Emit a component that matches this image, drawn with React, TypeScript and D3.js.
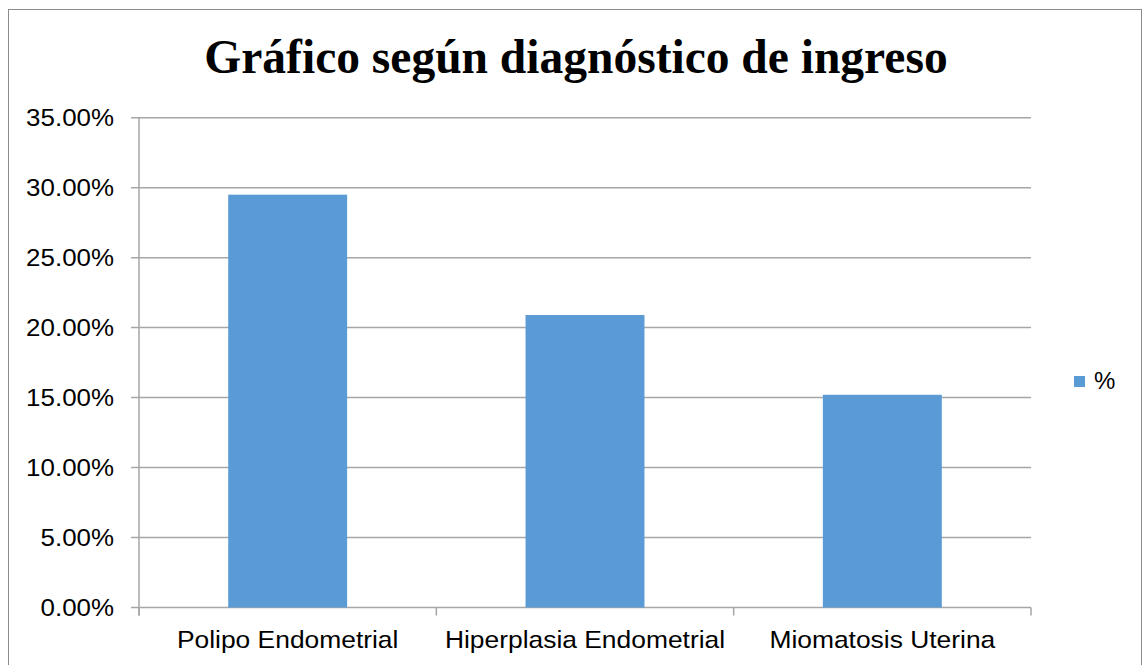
import React from 'react'
import * as d3 from 'd3'

const categories = ['Polipo Endometrial', 'Hiperplasia Endometrial', 'Miomatosis Uterina']
const values = [0.295, 0.209, 0.152]
const yTicks = [0, 0.05, 0.1, 0.15, 0.2, 0.25, 0.3, 0.35]
const seriesName = '%'
const title = 'Gráfico según diagnóstico de ingreso'

const W = 1143
const H = 665
const plot = { left: 139, right: 1031, top: 117.7, bottom: 607.5 }
const barColor = '#5b9bd5'
const gridColor = '#a6a6a6'
const sans = "'Liberation Sans', Arial, sans-serif"

const App: React.FC = () => {
  const x = d3.scaleBand<string>()
    .domain(categories)
    .range([plot.left, plot.right])
    .paddingInner(0.6)
    .paddingOuter(0.3)

  const y = d3.scaleLinear().domain([0, 0.35]).range([plot.bottom, plot.top])
  const fmt = d3.format('.2%')
  const step = x.step()
  // category separators, including both ends
  const seps = d3.range(categories.length + 1).map(i => plot.left + i * step)

  return (
    <svg width={W} height={H} style={{ position: 'absolute', left: 0, top: 0 }}>
      <rect x={0} y={0} width={W} height={H} fill="#fff" />
      <rect x={8.5} y={9.5} width={1133} height={700} fill="none" stroke="#8c8c8c" strokeWidth={1} />
      <text x={576} y={73} textAnchor="middle" fontFamily="'Liberation Serif', 'Times New Roman', serif"
        fontWeight="bold" fontSize={47.5} fill="#000">{title}</text>

      {yTicks.map(t => (
        <g key={t}>
          <line x1={plot.left - 8} x2={plot.right} y1={y(t)} y2={y(t)} stroke={gridColor} strokeWidth={1.5} />
          <g transform={`translate(114,${y(t)}) scale(1.08,1)`}>
            <text dy="0.35em" textAnchor="end" fontFamily={sans} fontSize={24} fill="#000">{fmt(t)}</text>
          </g>
        </g>
      ))}

      <line x1={plot.left} x2={plot.left} y1={plot.top} y2={plot.bottom + 8} stroke={gridColor} strokeWidth={1.5} />
      {seps.map((sx, i) => (
        <line key={i} x1={sx} x2={sx} y1={plot.bottom} y2={plot.bottom + 8} stroke={gridColor} strokeWidth={1.5} />
      ))}

      {categories.map((c, i) => (
        <rect key={c} x={x(c)} y={y(values[i])} width={x.bandwidth()} height={y(0) - y(values[i])} fill={barColor} />
      ))}

      {categories.map(c => (
        <g key={c} transform={`translate(${(x(c) || 0) + x.bandwidth() / 2},648) scale(1.1,1)`}>
          <text textAnchor="middle" fontFamily={sans} fontSize={24} fill="#000">{c}</text>
        </g>
      ))}

      <rect x={1074} y={376} width={11} height={11} fill={barColor} />
      <text x={1094} y={389} fontFamily={sans} fontSize={24} fill="#000">{seriesName}</text>
    </svg>
  )
}

export default App
